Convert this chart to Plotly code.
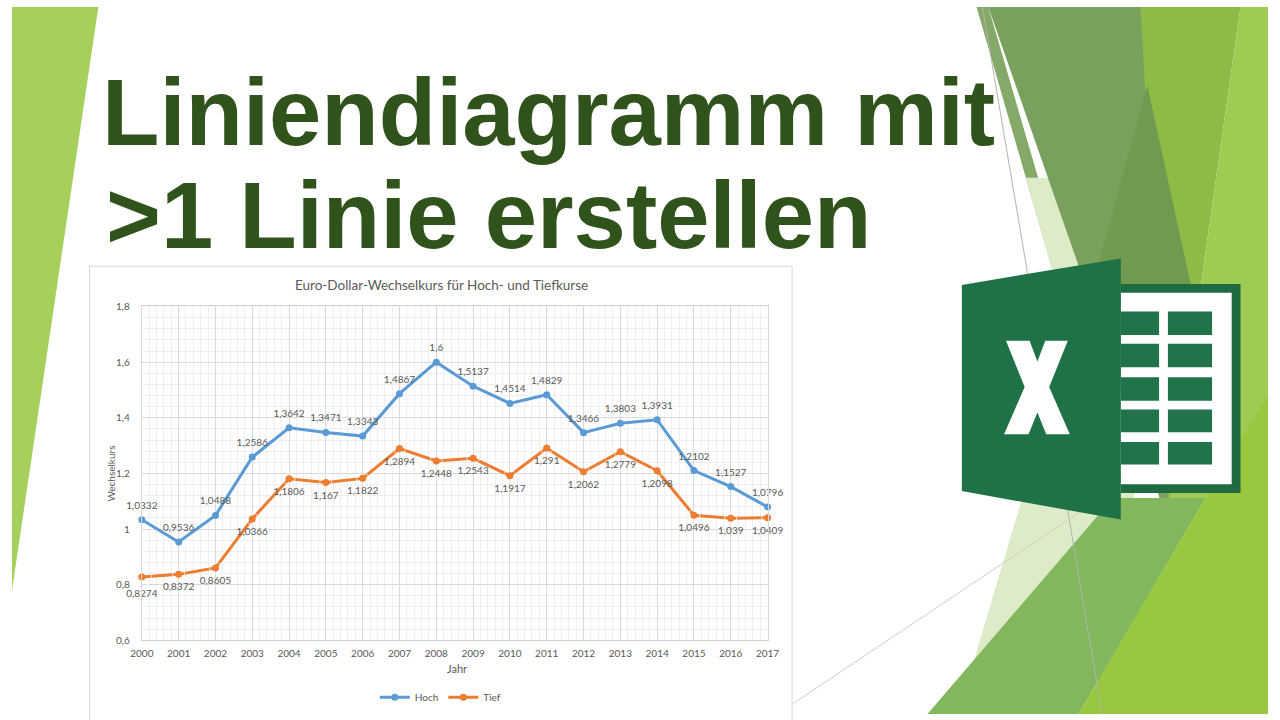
import plotly.graph_objects as go

# ---------------- data ----------------
years = [2000, 2001, 2002, 2003, 2004, 2005, 2006, 2007, 2008,
         2009, 2010, 2011, 2012, 2013, 2014, 2015, 2016, 2017]
hoch = [1.0332, 0.9536, 1.0488, 1.2586, 1.3642, 1.3471, 1.3343, 1.4867, 1.6,
        1.5137, 1.4514, 1.4829, 1.3466, 1.3803, 1.3931, 1.2102, 1.1527, 1.0796]
tief = [0.8274, 0.8372, 0.8605, 1.0366, 1.1806, 1.167, 1.1822, 1.2894, 1.2448,
        1.2543, 1.1917, 1.291, 1.2062, 1.2779, 1.2098, 1.0496, 1.039, 1.0409]
series_names = ["Hoch", "Tief"]
headline = ["Liniendiagramm mit", ">1 Linie erstellen"]
chart_title = "Euro-Dollar-Wechselkurs für Hoch- und Tiefkurse"
x_title = "Jahr"
y_title = "Wechselkurs"

W, H = 1280, 720
FONT = "Lato, 'Open Sans', 'Liberation Sans', sans-serif"
GREY = "#595959"
BLUE = "#5B9BD5"
ORANGE = "#ED7D31"


def px(x):
    return x / W


def py(y):
    return 1 - y / H


def path(points):
    return "M " + " L ".join(f"{px(x):.5f},{py(y):.5f}" for x, y in points) + " Z"


def fmt(v):
    return f"{v}".replace(".", ",")


fig = go.Figure()

# lines + markers (legend entries)
fig.add_trace(go.Scatter(x=years, y=hoch, mode="lines+markers", name=series_names[0],
                         line=dict(color=BLUE, width=3), marker=dict(size=7, color=BLUE),
                         cliponaxis=False))
fig.add_trace(go.Scatter(x=years, y=tief, mode="lines+markers", name=series_names[1],
                         line=dict(color=ORANGE, width=3), marker=dict(size=7, color=ORANGE),
                         cliponaxis=False))
# data labels (invisible markers give the label offset)
tief_gap = [12] * len(tief)
tief_gap[0] = 19   # push the first label below the "0,8" tick label
fig.add_trace(go.Scatter(x=years, y=hoch, mode="markers+text", text=[fmt(v) for v in hoch],
                         textposition="top center", showlegend=False, hoverinfo="skip",
                         marker=dict(size=12, color="rgba(0,0,0,0)"),
                         textfont=dict(family=FONT, size=10, color=GREY), cliponaxis=False))
fig.add_trace(go.Scatter(x=years, y=tief, mode="markers+text", text=[fmt(v) for v in tief],
                         textposition="bottom center", showlegend=False, hoverinfo="skip",
                         marker=dict(size=tief_gap, color="rgba(0,0,0,0)"),
                         textfont=dict(family=FONT, size=10, color=GREY), cliponaxis=False))

# ---------------- background slide shapes ----------------
shapes = []


def poly(points, color):
    shapes.append(dict(type="path", xref="paper", yref="paper", path=path(points),
                       fillcolor=color, line=dict(width=0), layer="below"))


def seg(p0, p1, color, width=1):
    shapes.append(dict(type="line", xref="paper", yref="paper",
                       x0=px(p0[0]), y0=py(p0[1]), x1=px(p1[0]), y1=py(p1[1]),
                       line=dict(color=color, width=width), layer="below"))


def rect(x0, y0, x1, y1, color, line_color=None):
    shapes.append(dict(type="rect", xref="paper", yref="paper",
                       x0=px(x0), y0=py(y1), x1=px(x1), y1=py(y0),
                       fillcolor=color,
                       line=dict(width=1 if line_color else 0, color=line_color or color),
                       layer="below"))


# left strip
poly([(0, 0), (88, 0), (0, 594)], "#A6CF5B")
# right side greens
poly([(1148, 0), (1252, 0), (1175, 540)], "#8DBB46")
poly([(1252, 0), (1280, 0), (1280, 720), (1087, 720), (1175, 540)], "#A0CB52")
poly([(983, 0), (995, 0), (1100, 360), (1087, 360)], "#84A968")
poly([(1033, 174), (1110, 174), (1110, 360), (1087, 360)], "#DDEBC8")
poly([(995, 0), (1150, 0), (1180, 530)], "#7AA05D")
poly([(1157, 80), (1097, 300), (1205, 300)], "#71994F")
poly([(964, 720), (1040, 465), (1150, 465), (1100, 720)], "#DDEBC8")
poly([(933, 720), (1122, 500), (1216, 500), (1087, 720)], "#82B75E")
poly([(1087, 720), (1280, 395), (1280, 720)], "#99C73F")
# thin grey lines
seg((989, 0), (1111, 720), "#b3b3b3")
seg((780, 720), (1135, 483), "#cccccc")

# Excel logo
rect(1130, 282, 1252, 495, "#1E6B41")
rect(1130, 291, 1243, 486, "#FFFFFF")
for (cx0, cx1) in [(1130, 1169), (1178, 1223)]:
    for (ry0, ry1) in [(310, 334), (343, 367), (377, 401), (410, 433), (443, 466)]:
        rect(cx0, ry0, cx1, ry1, "#21734A")
poly([(968, 283), (1130, 256), (1130, 522), (968, 493)], "#1F7246")
poly([(1013, 340), (1037, 340), (1045, 361), (1053, 340), (1076, 340), (1057, 387),
      (1078, 435), (1054, 435), (1045, 413), (1036, 435), (1011, 435), (1032, 387)], "#FFFFFF")

# chart panel
rect(79, 264, 795, 730, "#FFFFFF", "#D9D9D9")

# ---------------- annotations ----------------
HEAD_FONT = "'Liberation Sans', Arial, sans-serif"
annotations = [
    dict(text=headline[0], x=px(90), y=py(107), xanchor="left", yanchor="middle",
         font=dict(family=HEAD_FONT, size=94, color="#30531C", weight="bold")),
    dict(text=headline[1], x=px(94), y=py(212), xanchor="left", yanchor="middle",
         font=dict(family=HEAD_FONT, size=94, color="#30531C", weight="bold")),
    dict(text=chart_title, x=px(437.5), y=py(283), xanchor="center", yanchor="middle",
         font=dict(family=FONT, size=13.5, color=GREY)),
    dict(text=y_title, x=px(101), y=py(475), xanchor="center", yanchor="middle", textangle=-90,
         font=dict(family=FONT, size=10, color=GREY)),
    dict(text=x_title, x=px(453), y=py(674), xanchor="center", yanchor="middle",
         font=dict(family=FONT, size=11, color=GREY)),
]
for a in annotations:
    a.update(xref="paper", yref="paper", showarrow=False)

fig.update_layout(
    width=W, height=H,
    margin=dict(l=0, r=0, t=0, b=0),
    paper_bgcolor="white", plot_bgcolor="white",
    separators=",.",
    font=dict(family=FONT, color=GREY),
    shapes=shapes,
    annotations=annotations,
    showlegend=True,
    hovermode=False,
    legend=dict(orientation="h", x=px(437), xanchor="center", y=py(703), yanchor="middle",
                font=dict(family=FONT, size=10, color=GREY), bgcolor="rgba(0,0,0,0)",
                itemwidth=30),
    xaxis=dict(domain=[px(132.3), px(770)], range=[2000, 2017], tick0=2000, dtick=1,
               showgrid=True, gridcolor="#D9D9D9", gridwidth=1,
               minor=dict(tick0=2000, dtick=0.2, showgrid=True, gridcolor="#EFEFEF", gridwidth=1),
               showline=True, linecolor="#CFCFCF", mirror=True, zeroline=False,
               ticks="", tickfont=dict(family=FONT, size=10, color=GREY), ticklabelstandoff=4),
    yaxis=dict(domain=[py(645), py(305)], range=[0.6, 1.8], tick0=0.6, dtick=0.2,
               showgrid=True, gridcolor="#D9D9D9", gridwidth=1,
               minor=dict(tick0=0.6, dtick=0.04, showgrid=True, gridcolor="#EFEFEF", gridwidth=1),
               showline=True, linecolor="#D9D9D9", mirror=True, zeroline=False,
               ticks="", tickfont=dict(family=FONT, size=10, color=GREY), ticklabelstandoff=9),
)

fig.write_html(
    "out.html",
    config={"displayModeBar": False},
    post_script="document.body.style.margin='0';document.body.style.padding='0';"
                "document.body.style.overflow='hidden';"
                "document.documentElement.style.overflow='hidden';",
)
